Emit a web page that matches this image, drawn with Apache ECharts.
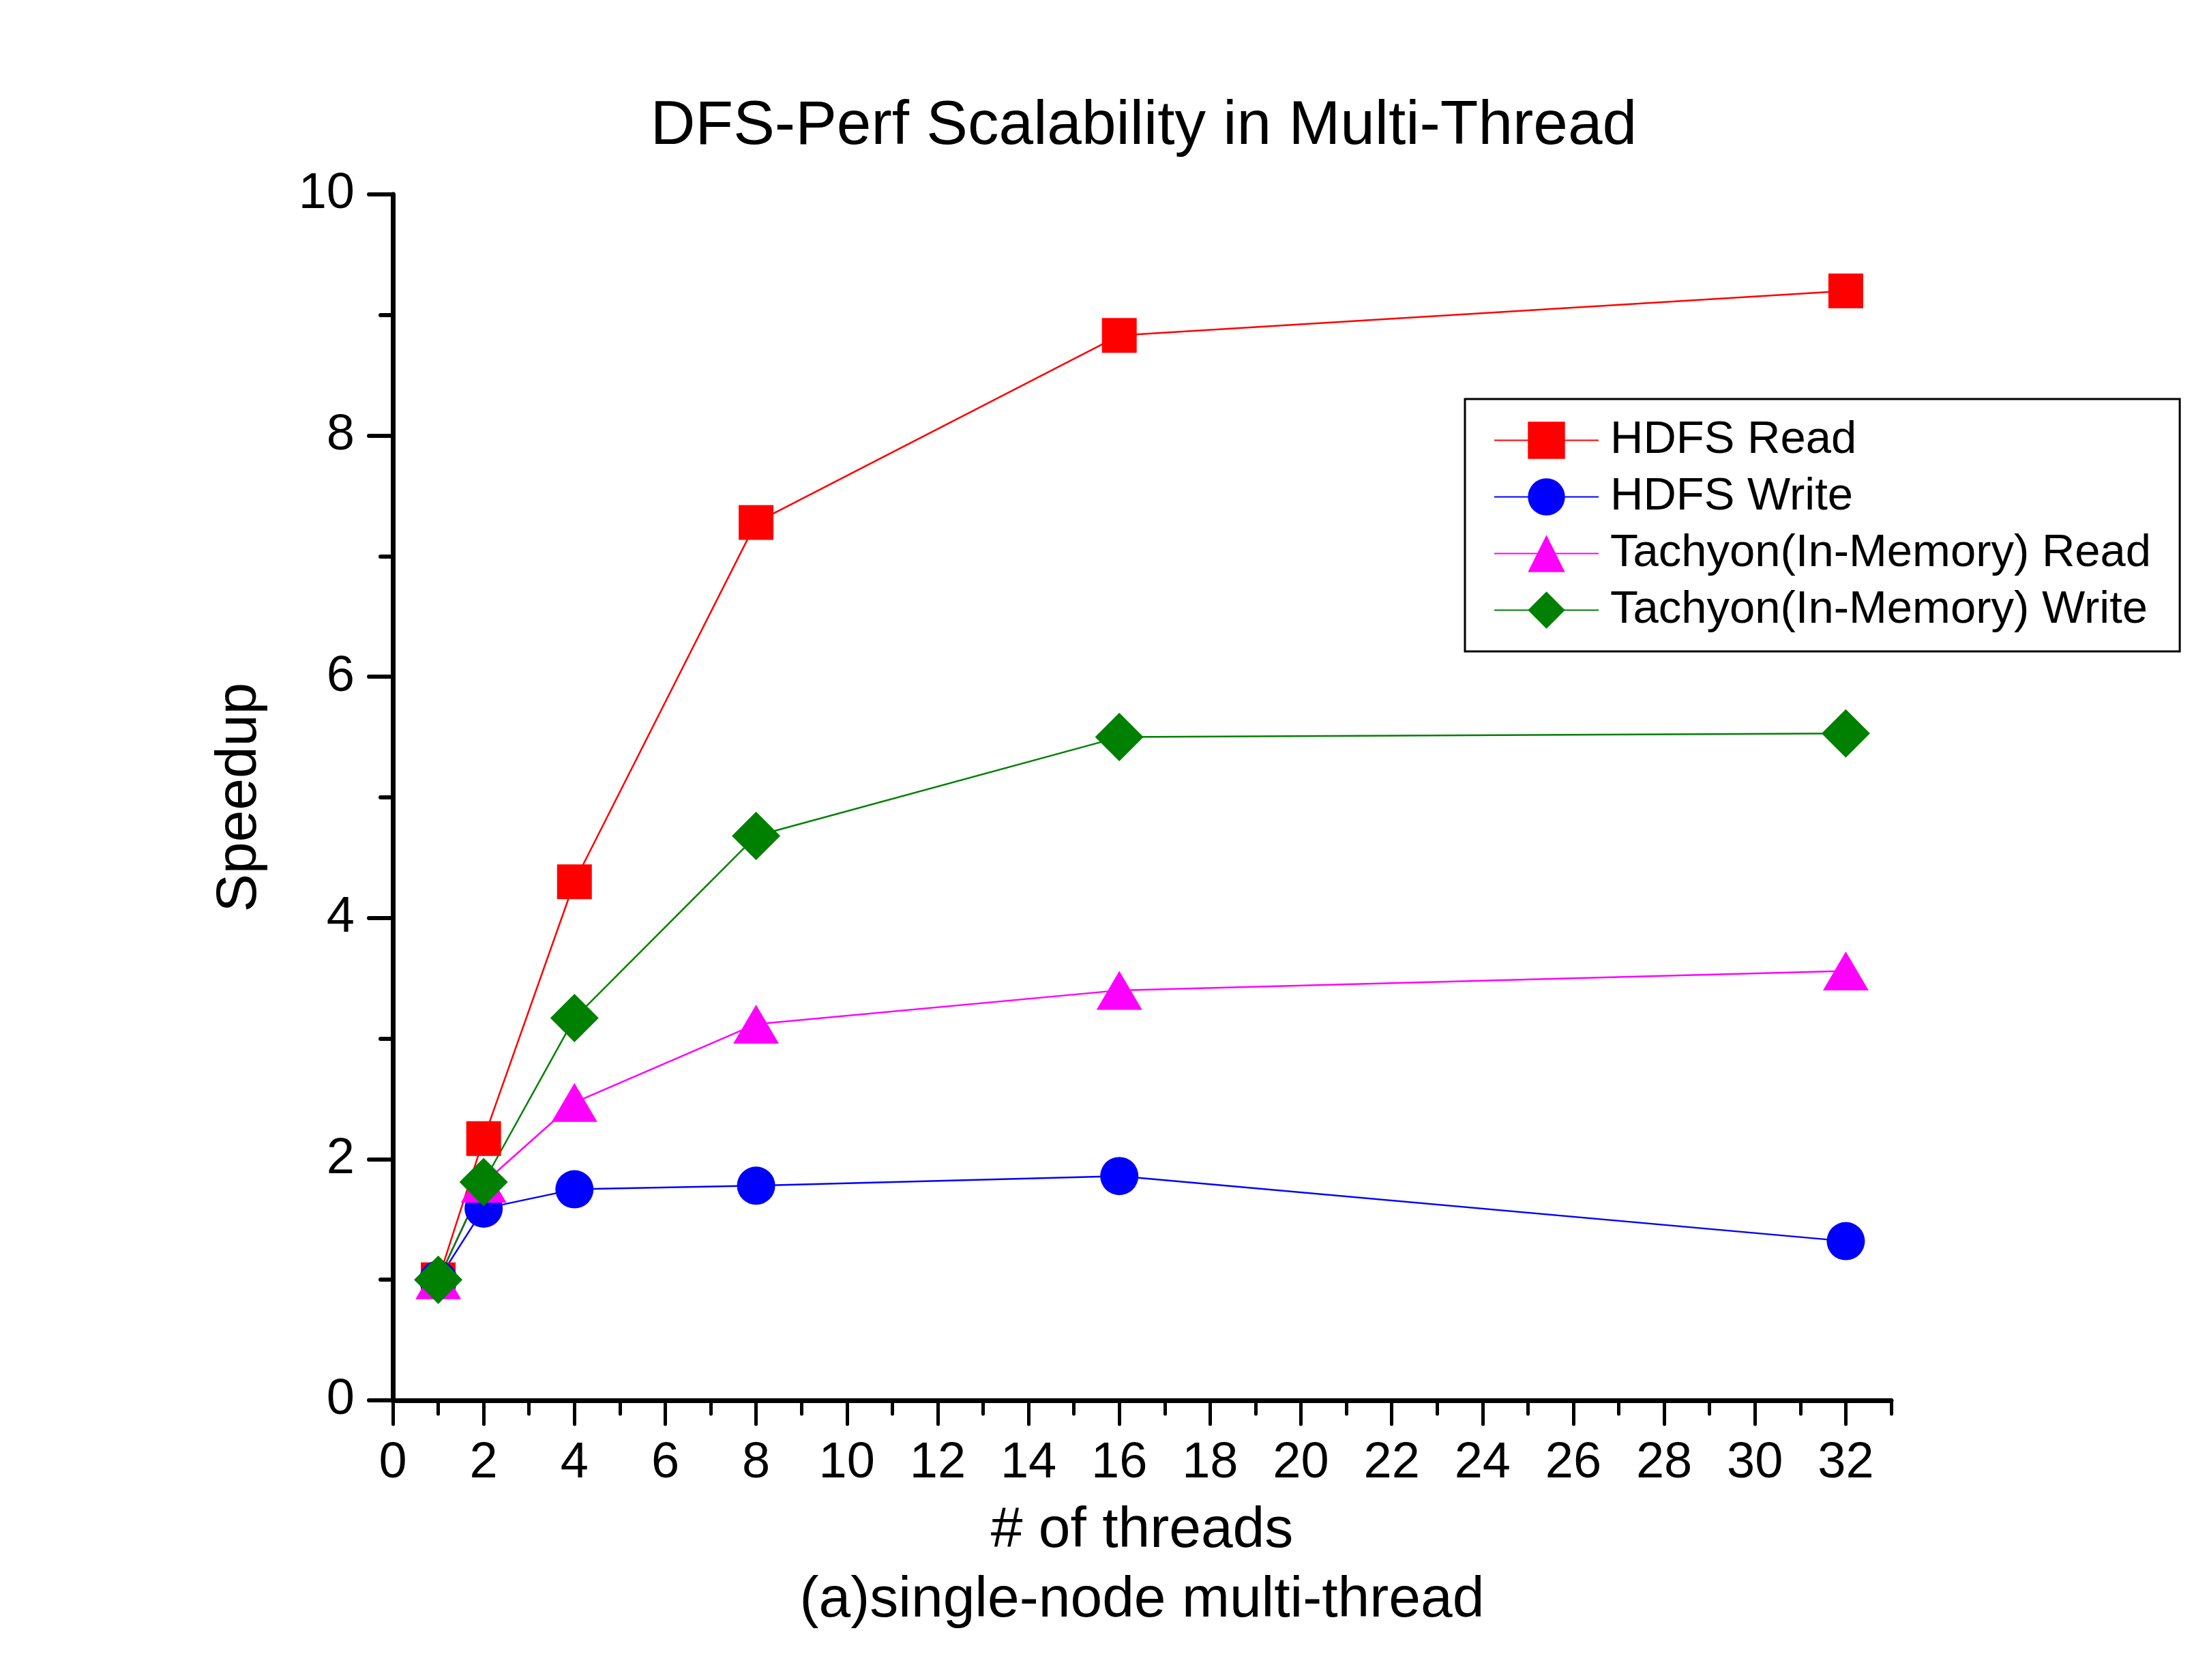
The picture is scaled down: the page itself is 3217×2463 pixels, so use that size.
<!DOCTYPE html>
<html><head><meta charset="utf-8">
<script src="https://cdn.jsdelivr.net/npm/echarts@6/dist/echarts.min.js"></script>
<style>html,body{margin:0;padding:0;background:#fff}#c{width:3217px;height:2463px}</style>
</head><body><div id="c"></div>
<script>
const threads = [1, 2, 4, 8, 16, 32];
const hdfsRead = [1.0, 2.17, 4.30, 7.28, 8.83, 9.20];
const hdfsWrite = [1.0, 1.59, 1.75, 1.78, 1.86, 1.32];
const tachyonRead = [1.0, 1.80, 2.47, 3.12, 3.40, 3.56];
const tachyonWrite = [1.0, 1.81, 3.17, 4.68, 5.50, 5.53];
const seriesNames = ['HDFS Read', 'HDFS Write', 'Tachyon(In-Memory) Read', 'Tachyon(In-Memory) Write'];
const xMajorTicks = [0, 2, 4, 6, 8, 10, 12, 14, 16, 18, 20, 22, 24, 26, 28, 30, 32];
const xMinorTicks = [1, 3, 5, 7, 9, 11, 13, 15, 17, 19, 21, 23, 25, 27, 29, 31, 33];
const titleText = 'DFS-Perf Scalability in Multi-Thread';
const xTitle = '# of threads';
const subTitle = '(a)single-node multi-thread';
const yTitle = 'Speedup';

const FONT = 'Liberation Sans';
const pair = arr => threads.map((t, i) => [t, arr[i]]);
const mk = (name, data, color, symbol, size) => ({
  name, type: 'line', data: pair(data), symbol, symbolSize: size,
  lineStyle: { color, width: 2.5 }, itemStyle: { color },
  clip: false, z: 2
});

const chart = echarts.init(document.getElementById('c'), null, { renderer: 'canvas' });
chart.setOption({
  animation: false,
  backgroundColor: '#ffffff',
  title: {
    text: titleText, left: 1672, top: 135, textAlign: 'center',
    textStyle: { fontFamily: FONT, fontSize: 91, fontWeight: 'normal', color: '#000', lineHeight: 91 }
  },
  grid: { left: 576, right: 444, top: 285, bottom: 410, containLabel: false },
  legend: {
    orient: 'vertical', left: 2148, top: 585,
    padding: [27, 42, 27, 42],
    borderColor: '#000', borderWidth: 3,
    itemWidth: 153, itemHeight: 68, itemGap: 16,
    data: seriesNames,
    textStyle: { fontFamily: FONT, fontSize: 67, color: '#000', padding: [0, 0, 0, 12] }
  },
  xAxis: [{
    type: 'value', min: 0, max: 33, interval: 2, position: 'bottom',
    name: xTitle + '\n' + subTitle, nameLocation: 'middle', nameGap: 141,
    nameTextStyle: { fontFamily: FONT, fontSize: 84, color: '#000', lineHeight: 102 },
    axisLine: { show: true, lineStyle: { color: '#000', width: 7, cap: 'round' } },
    axisTick: { show: true, inside: false, length: 35, customValues: xMajorTicks, lineStyle: { color: '#000', width: 5, cap: 'round' } },
    axisLabel: { show: true, customValues: xMajorTicks, fontFamily: FONT, fontSize: 74, color: '#000', margin: 56 },
    splitLine: { show: false }
  }, {
    type: 'value', min: 0, max: 33, interval: 2, position: 'bottom',
    axisLine: { show: false },
    axisTick: { show: true, inside: false, length: 20, customValues: xMinorTicks, lineStyle: { color: '#000', width: 5, cap: 'round' } },
    axisLabel: { show: false },
    splitLine: { show: false }
  }],
  yAxis: {
    type: 'value', min: 0, max: 10, interval: 2,
    name: yTitle, nameLocation: 'middle', nameGap: 182, nameRotate: 90,
    nameTextStyle: { fontFamily: FONT, fontSize: 84, color: '#000', lineHeight: 84 },
    axisLine: { show: true, lineStyle: { color: '#000', width: 7, cap: 'round' } },
    axisTick: { show: true, inside: false, length: 35, lineStyle: { color: '#000', width: 6, cap: 'round' } },
    minorTick: { show: true, splitNumber: 2, length: 18, lineStyle: { color: '#000', width: 6, cap: 'round' } },
    axisLabel: { fontFamily: FONT, fontSize: 74, color: '#000', margin: 56 },
    splitLine: { show: false }, minorSplitLine: { show: false }
  },
  series: [
    mk(seriesNames[0], hdfsRead, '#ff0000', 'rect', 51),
    mk(seriesNames[1], hdfsWrite, '#0000ff', 'circle', 56),
    mk(seriesNames[2], tachyonRead, '#ff00ff', 'triangle', [67, 57]),
    mk(seriesNames[3], tachyonWrite, '#008000', 'diamond', [71, 71])
  ]
});
</script>
</body></html>
